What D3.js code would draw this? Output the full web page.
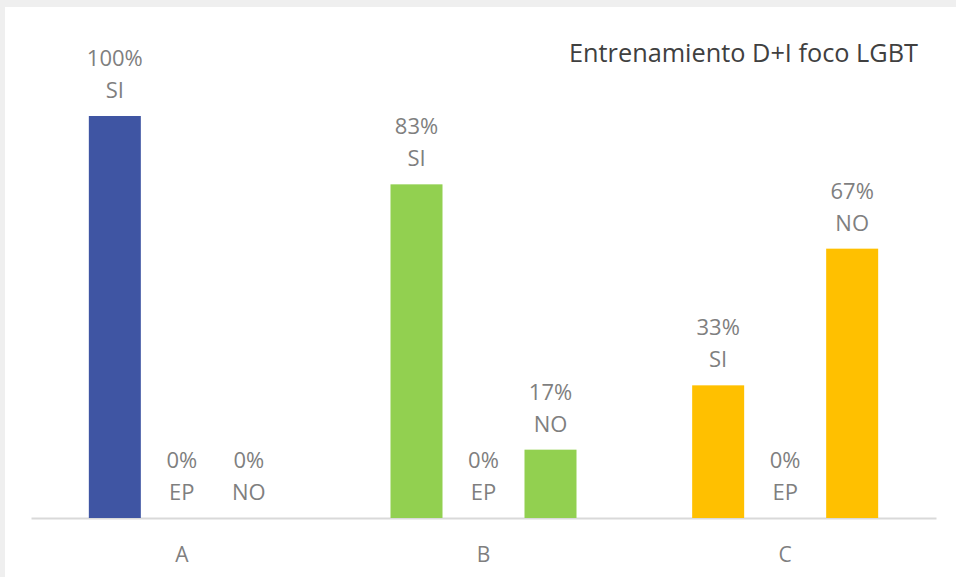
<!DOCTYPE html>
<html><head><meta charset="utf-8">
<script src="https://cdn.jsdelivr.net/npm/d3@7"></script>
<style>html,body{margin:0;padding:0;background:#efefef;overflow:hidden}</style>
</head><body>
<svg id="c" width="956" height="577"></svg>
<script>
const title = "Entrenamiento D+I foco LGBT";
const categories = ["A", "B", "C"];
const series = ["SI", "EP", "NO"];
const valuesA = [100, 0, 0];
const valuesB = [83, 0, 17];
const valuesC = [33, 0, 67];
const groupColors = ["#3F55A3", "#92D050", "#FFC000"];
const allValues = [valuesA, valuesB, valuesC];

const svg = d3.select("#c");
svg.append("rect").attr("x",5).attr("y",7).attr("width",951).attr("height",570).attr("fill","#ffffff");

const baseY = 518, topY = 116;
const x0 = d3.scaleBand().domain(categories).range([31, 936]).padding(0);
const bw = x0.bandwidth();
const step = 67, barW = 52;
const pIn = (step - barW) / step;
const x1 = d3.scaleBand().domain(series).range([bw/2 - 1.5*step, bw/2 + 1.5*step]).paddingInner(pIn).paddingOuter(pIn/2);
const y = d3.scaleLinear().domain([0, 100]).range([baseY, topY]);

// axis
const xAxis = d3.axisBottom(x0).tickSize(0).tickPadding(29);
const ax = svg.append("g").attr("transform", `translate(0,${baseY})`).call(xAxis);
ax.select(".domain").attr("stroke", "#d9d9d9").attr("stroke-width", 2);
ax.selectAll("text").attr("font-family", "'Open Sans', sans-serif").attr("font-size", 21).attr("fill", "#7f7f7f");

categories.forEach((cat, ci) => {
  const g = svg.append("g").attr("transform", `translate(${x0(cat)},0)`);
  series.forEach((s, si) => {
    const v = allValues[ci][si];
    const bx = x1(s);
    if (v > 0) {
      g.append("rect").attr("x", bx).attr("y", y(v)).attr("width", x1.bandwidth()).attr("height", baseY - y(v)).attr("fill", groupColors[ci]);
    }
    const cx = bx + x1.bandwidth()/2;
    const t = g.append("text").attr("x", cx).attr("text-anchor", "middle")
      .attr("font-family", "'Open Sans', sans-serif").attr("font-size", 22).attr("fill", "#7f7f7f");
    t.append("tspan").attr("x", cx).attr("y", y(v) - 50).text(v + "%");
    t.append("tspan").attr("x", cx).attr("y", y(v) - 18).text(s);
  });
});

svg.append("text").attr("x", 918).attr("y", 62).attr("text-anchor", "end")
  .attr("font-family", "'Open Sans', sans-serif").attr("font-size", 25.3).attr("fill", "#404040").text(title);
</script>
</body></html>
